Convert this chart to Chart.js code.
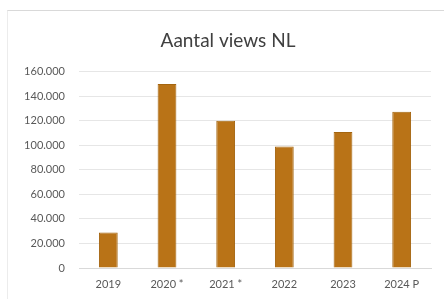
<!DOCTYPE html>
<html lang="nl">
<head>
    <meta charset="UTF-8">
    <title>Aantal views NL</title>
    <script src="https://cdn.jsdelivr.net/npm/chart.js"></script>
    <style>
        html, body {
            margin: 0;
            padding: 0;
            background: #ffffff;
        }
        .chart-box {
            position: relative;
            width: 444px;
            height: 299px;
        }
        .frame {
            position: absolute;
            left: 7px;
            top: 10px;
            right: 0;
            bottom: 0;
            border-top: 1px solid #d9d9d9;
            border-left: 1px solid #ececec;
        }
        canvas {
            position: absolute;
            left: 0;
            top: 0;
        }
    </style>
</head>
<body>
    <div class="chart-box">
        <div class="frame"></div>
        <canvas id="viewsChart" width="444" height="299"></canvas>
    </div>

    <script>
        // Data
        const jaren = ['2019', '2020 *', '2021 *', '2022', '2023', '2024 P'];
        const views = [29000, 150000, 120000, 99000, 111000, 127500];
        const yTicks = [0, 20000, 40000, 60000, 80000, 100000, 120000, 140000, 160000];

        // 160000 -> "160.000"
        function formatNL(v) {
            return String(v).replace(/\B(?=(\d{3})+(?!\d))/g, '.');
        }

        const ctx = document.getElementById('viewsChart').getContext('2d');
        new Chart(ctx, {
            type: 'bar',
            data: {
                labels: jaren,
                datasets: [{
                    label: 'Aantal views',
                    data: views,
                    backgroundColor: '#b97317',
                    borderColor: '#a4650f',
                    borderWidth: 1,
                    barPercentage: 0.32,
                    categoryPercentage: 1.0
                }]
            },
            options: {
                responsive: false,
                animation: false,
                layout: {
                    // left > right so the title sits a bit right of centre, like the original
                    padding: { left: 25, right: 13, top: 0, bottom: 0 }
                },
                plugins: {
                    legend: { display: false },
                    tooltip: { enabled: false },
                    title: {
                        display: true,
                        text: 'Aantal views NL',
                        color: '#404040',
                        font: { family: 'Lato', size: 19, weight: 'normal' },
                        padding: { top: 29, bottom: 20 }
                    }
                },
                scales: {
                    x: {
                        grid: { display: false, drawTicks: false },
                        border: { display: true, color: '#d9d9d9' },
                        ticks: {
                            color: '#595959',
                            font: { family: 'Lato', size: 11 },
                            padding: 10
                        },
                        afterFit: function(scale) { scale.height = 31; }
                    },
                    y: {
                        min: 0,
                        max: 160000,
                        afterBuildTicks: function(scale) {
                            scale.ticks = yTicks.map(v => ({ value: v }));
                        },
                        grid: { color: '#e6e6e6', drawTicks: false },
                        border: { display: false },
                        ticks: {
                            color: '#595959',
                            font: { family: 'Lato', size: 11 },
                            padding: 14,
                            callback: function(value) { return formatNL(value); }
                        },
                        afterFit: function(scale) { scale.width = 54; }
                    }
                }
            }
        });
    </script>
</body>
</html>
